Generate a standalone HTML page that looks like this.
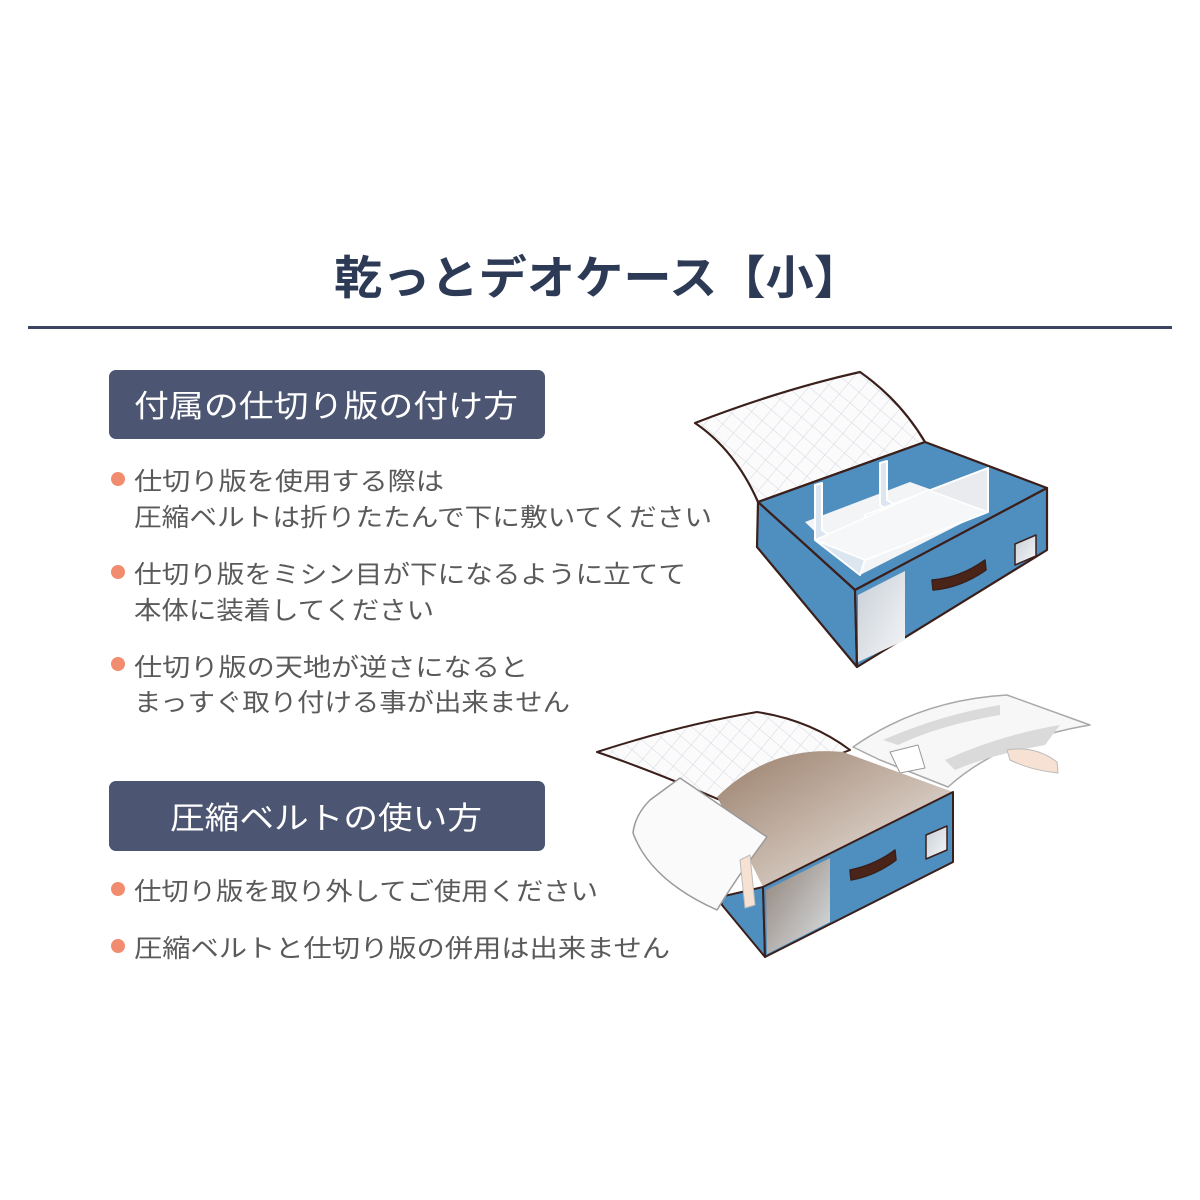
<!DOCTYPE html>
<html><head><meta charset="utf-8"><style>
html,body{margin:0;padding:0;background:#fff}
svg{display:block}
text{font-family:"Liberation Sans","Noto Sans CJK JP",sans-serif}
</style></head><body>
<svg width="1200" height="1200" viewBox="0 0 1200 1200" xmlns="http://www.w3.org/2000/svg">
<defs>
<pattern id="q" width="14" height="14" patternUnits="userSpaceOnUse" patternTransform="rotate(40)">
<rect width="14" height="14" fill="#fbfbfc"/>
<path d="M0 0H14M0 0V14" stroke="#d3d7df" stroke-width="1"/>
</pattern>
<linearGradient id="br" x1="0" y1="0" x2="1" y2="1">
<stop offset="0" stop-color="#9a7f6b"/><stop offset="1" stop-color="#f3eeea"/></linearGradient>
<linearGradient id="gl" x1="0" y1="0" x2="1" y2="1">
<stop offset="0" stop-color="#c9cfd6"/><stop offset="1" stop-color="#f4f6f8"/></linearGradient>
</defs>
<text x="598" y="294" font-size="46" font-weight="bold" fill="#2c3a56" text-anchor="middle" textLength="528" lengthAdjust="spacingAndGlyphs">乾っとデオケース【小】</text>
<rect x="28" y="326" width="1144" height="3" fill="#3b4562"/>

<rect x="109" y="370" width="436" height="69" rx="7" fill="#4c5571"/>
<text x="134" y="417" font-size="31" fill="#fff" textLength="384" lengthAdjust="spacingAndGlyphs">付属の仕切り版の付け方</text>
<g fill="#5a5a5a" font-size="25">
<circle cx="118" cy="479" r="7" fill="#f28c6e"/>
<text x="134" y="490" textLength="310" lengthAdjust="spacingAndGlyphs">仕切り版を使用する際は</text>
<text x="134" y="526" textLength="578" lengthAdjust="spacingAndGlyphs">圧縮ベルトは折りたたんで下に敷いてください</text>
<circle cx="118" cy="572" r="7" fill="#f28c6e"/>
<text x="134" y="583" textLength="552" lengthAdjust="spacingAndGlyphs">仕切り版をミシン目が下になるように立てて</text>
<text x="134" y="619" textLength="300" lengthAdjust="spacingAndGlyphs">本体に装着してください</text>
<circle cx="118" cy="664" r="7" fill="#f28c6e"/>
<text x="134" y="676" textLength="394" lengthAdjust="spacingAndGlyphs">仕切り版の天地が逆さになると</text>
<text x="134" y="711" textLength="436" lengthAdjust="spacingAndGlyphs">まっすぐ取り付ける事が出来ません</text>
</g>
<rect x="109" y="781" width="436" height="70" rx="7" fill="#4c5571"/>
<text x="170" y="829" font-size="31" fill="#fff" textLength="312" lengthAdjust="spacingAndGlyphs">圧縮ベルトの使い方</text>
<g fill="#5a5a5a" font-size="25">
<circle cx="118" cy="889" r="7" fill="#f28c6e"/>
<text x="134" y="900" textLength="464" lengthAdjust="spacingAndGlyphs">仕切り版を取り外してご使用ください</text>
<circle cx="118" cy="946" r="7" fill="#f28c6e"/>
<text x="134" y="957" textLength="536" lengthAdjust="spacingAndGlyphs">圧縮ベルトと仕切り版の併用は出来ません</text>
</g>

<!-- top box -->
<g stroke="#3a1f1a" stroke-width="2.2" stroke-linejoin="round">
<path d="M695 423 Q780 390 860 372 Q900 400 925 442 L758 502 Q735 450 695 423Z" fill="url(#q)"/>
<path d="M758 502 L925 442 L1047 488 L855 590Z" fill="#4f8fc0"/>
<!-- floor -->
<path d="M805 522 L910 482 L988 510 L860 575Z" fill="#f3f4f6" stroke="none"/>
<!-- dividers -->
<path d="M815 485 L822 483 L822 530 L865 560 L860 575 L815 540Z" fill="#dbe6f0" stroke="#fff" stroke-width="2"/>
<path d="M880 463 L887 461 L887 500 L928 525 L920 535 L880 505Z" fill="#dbe6f0" stroke="#fff" stroke-width="2"/>
<path d="M865 560 L865 515 L988 468 L988 512 Z" fill="#e9ebee" stroke="#fff" stroke-width="2"/>
<path d="M815 540 L928 490 L988 512 L865 560Z" fill="#f6f7f8" stroke="#fff" stroke-width="1.5"/>
<path d="M758 502 L855 590 L857 667 L757 547Z" fill="#4f8fc0"/>
<path d="M855 590 L1047 488 L1047 550 L857 667Z" fill="#4f8fc0"/>
<path d="M858 595 L905 571 L905 640 L858 662Z" fill="url(#gl)" stroke="none"/>
<path d="M932 580 Q960 578 985 560 L986 570 Q960 588 933 590Z" fill="#4a2418" stroke-width="1.5"/>
<path d="M1015 544 L1036 535 L1036 556 L1015 565Z" fill="url(#gl)" stroke-width="1.5"/>
</g>

<!-- bottom box -->
<g stroke="#3a1f1a" stroke-width="2" stroke-linejoin="round">
<path d="M597 752 Q680 725 757 712 Q810 720 850 750 L720 800 Q650 770 597 752Z" fill="url(#q)"/>
<path d="M853 747 Q920 700 1007 695 L1090 725 Q1000 740 948 787 L880 760Z" fill="#f7f7f7" stroke="#a8a8a8" stroke-width="1.5"/>
<path d="M883 740 Q940 715 1000 705 L1000 715 Q940 725 898 745Z M945 760 Q1000 735 1060 725 L1045 745 Q990 755 955 770Z" fill="#dadada" stroke="none"/>
<path d="M890 752 L918 745 L925 768 L900 773Z" fill="#fff" stroke="#999" stroke-width="1"/>
<path d="M1007 750 Q1035 745 1057 762 L1058 773 Q1030 770 1010 760Z" fill="#f6e1d3" stroke="#bbb" stroke-width="1"/>
<path d="M720 897 L763 887 L765 957 L722 905Z" fill="#4f8fc0"/>
<path d="M717 797 Q770 745 843 752 L953 792 L763 887 Q740 840 717 797Z" fill="url(#br)" stroke="none"/>
<path d="M763 887 L953 792 L953 862 L765 957Z" fill="#4f8fc0"/>
<path d="M766 890 L830 858 L830 922 L767 954Z" fill="url(#br)" stroke="none" opacity="0.85"/>
<path d="M850 870 Q875 865 895 850 L896 860 Q875 876 851 880Z" fill="#4a2418" stroke-width="1.5"/>
<path d="M926 835 L947 826 L947 850 L926 859Z" fill="url(#gl)" stroke-width="1.5"/>
<path d="M650 800 L680 778 L767 837 Q735 880 717 910 Q650 880 633 833 Q635 815 650 800Z" fill="#fafafa" stroke="#9a9a9a" stroke-width="1.5"/>
<path d="M740 860 L750 855 L755 905 L745 908Z" fill="#f6e1d3" stroke="#bbb" stroke-width="1"/>
</g>
</svg>
</body></html>
